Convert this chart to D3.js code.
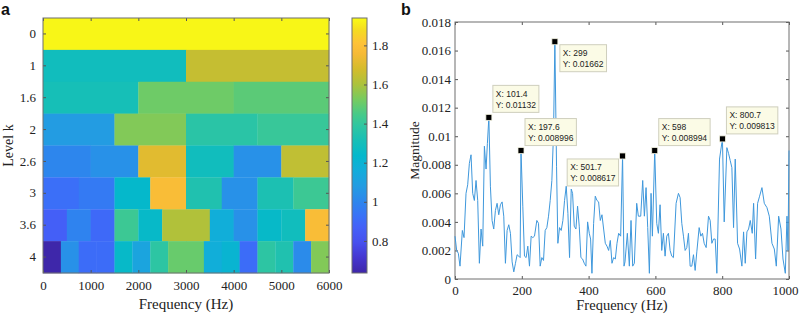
<!DOCTYPE html>
<html>
<head>
<meta charset="utf-8">
<title>Kurtogram and spectrum</title>
<script src="https://cdn.jsdelivr.net/npm/d3@7"></script>
<style>
    body { margin: 0; background: #fff; }
    svg { display: block; }
    .tick text { font-family: "Liberation Serif", "Times New Roman", serif; font-size: 13px; fill: #222; }
    .tick line { stroke: #555; }
    .title { font-family: "Liberation Serif", "Times New Roman", serif; fill: #222; }
    .letter { font-family: "Liberation Sans", Arial, sans-serif; font-weight: bold; font-size: 16px; fill: #111; }
    .tip text { font-family: "Liberation Sans", Arial, sans-serif; font-size: 8.5px; fill: #222; }
</style>
</head>
<body>
<script>
// ---- panel a data: kurtogram ----
var levels = ["0", "1", "1.6", "2", "2.6", "3", "3.6", "4"];
var level0  = [1.93];
var level1  = [1.29, 1.65];
var level16 = [1.31, 1.51, 1.48];
var level2  = [1.08, 1.54, 1.37, 1.41];
var level26 = [1.00, 1.04, 1.71, 1.29, 1.04, 1.64];
var level3  = [0.92, 0.96, 1.24, 1.78, 1.34, 1.04, 1.33, 1.42];
var level36 = [0.86, 0.99, 0.90, 1.42, 1.25, 1.61, 1.61, 1.17, 1.04, 1.25, 1.29, 1.78];
var level4  = [0.64, 1.04, 0.91, 0.91, 1.25, 1.12, 1.38, 1.50, 1.50, 1.17, 1.21, 0.91, 1.38, 1.34, 1.02, 1.54];
var kurtRows = [level0, level1, level16, level2, level26, level3, level36, level4];
var freqMaxA = 6000;
var freqTicksA = [0, 1000, 2000, 3000, 4000, 5000, 6000];
var colorDomain = [0.636, 1.94];
var colorTicks = [0.8, 1, 1.2, 1.4, 1.6, 1.8];

// ---- panel b data: envelope spectrum [freq, magnitude] ----
var spectrum = [
    [0,0.0030],[5,0.0020],[10,0.0018],[15,0.0009],[22,0.0034],[27,0.0029],[33,0.0060],[38,0.0066],[43,0.0081],[48,0.0087],
    [53,0.0060],[58,0.0055],[63,0.0069],[68,0.0055],[73,0.0011],[78,0.0035],[83,0.0023],[88,0.0093],[93,0.0077],[97,0.0095],
    [101.4,0.01132],[106,0.0065],[111,0.0041],[116,0.0035],[121,0.0048],[126,0.0053],[131,0.0045],[136,0.0052],[141,0.0054],
    [146,0.0044],[151,0.0011],[156,0.0034],[161,0.0038],[166,0.0032],[171,0.0012],[176,0.0005],[181,0.0011],[186,0.0017],
    [191,0.0016],[195,0.0015],[197.6,0.008996],[203,0.0051],[208,0.0016],[213,0.0015],[218,0.0023],[223,0.0009],[228,0.0030],
    [233,0.0029],[238,0.0030],[245,0.0041],[250,0.0039],[255,0.0009],[260,0.0015],[265,0.0013],[270,0.0034],[275,0.0036],
    [280,0.0044],[285,0.0055],[290,0.0069],[295,0.0102],[299,0.01662],[304,0.0079],[308,0.0025],[313,0.0036],[318,0.0034],
    [323,0.0041],[328,0.0055],[333,0.0065],[338,0.0046],[343,0.0015],[348,0.0063],[352,0.0060],[357,0.0037],[362,0.0035],
    [367,0.0051],[372,0.0037],[377,0.0015],[382,0.0014],[387,0.0011],[392,0.0009],[397,0.0040],[402,0.0032],[406,0.0028],
    [410,0.0004],[415,0.0039],[420,0.0058],[425,0.0055],[430,0.0054],[435,0.0041],[440,0.0045],[445,0.0035],[450,0.0025],
    [455,0.0023],[460,0.0020],[465,0.0027],[470,0.0011],[475,0.0015],[480,0.0014],[485,0.0025],[490,0.0032],[496,0.0030],
    [501.7,0.008617],[506,0.0009],[509,0.0012],[516,0.0032],[522,0.0009],[527,0.0041],[532,0.0009],[537,0.0011],[544,0.0053],
    [549,0.0044],[556,0.0044],[562,0.0069],[567,0.0044],[572,0.0064],[577,0.0036],[582,0.0004],[587,0.0060],[591,0.0030],
    [598,0.008994],[604,0.0039],[609,0.0032],[614,0.0052],[619,0.0020],[624,0.0032],[629,0.0016],[634,0.0030],[639,0.0032],
    [644,0.0020],[649,0.0016],[654,0.0015],[662,0.0053],[669,0.0060],[674,0.0057],[679,0.0039],[684,0.0030],[689,0.0020],
    [694,0.0022],[699,0.0032],[704,0.0009],[709,0.0009],[714,0.0017],[719,0.0006],[724,0.0019],[731,0.0036],[736,0.0030],
    [741,0.0032],[746,0.0025],[752,0.0022],[759,0.0044],[764,0.0041],[769,0.0025],[774,0.0028],[779,0.0028],[784,0.0004],
    [792,0.0084],[800.7,0.009813],[806,0.0040],[814,0.0092],[819,0.0088],[824,0.0083],[829,0.0078],[834,0.0036],[839,0.0084],
    [846,0.0025],[852,0.0021],[859,0.0009],[864,0.0033],[869,0.0011],[874,0.0033],[879,0.0035],[884,0.0041],[890,0.0032],
    [894,0.0053],[900,0.0014],[906,0.0053],[912,0.0058],[919,0.0064],[926,0.0053],[934,0.0050],[941,0.0044],[949,0.0025],
    [956,0.0021],[962,0.0009],[969,0.0044],[976,0.0035],[982,0.0014],[989,0.0004],[994,0.0044],[997,0.0020],[1000,0.0090]
];
var tipFreq  = [101.4, 197.6, 299, 501.7, 598, 800.7];
var tipMag   = [0.01132, 0.008996, 0.01662, 0.008617, 0.008994, 0.009813];
var tipLabelX = ["101.4", "197.6", "299", "501.7", "598", "800.7"];
var tipLabelY = ["0.01132", "0.008996", "0.01662", "0.008617", "0.008994", "0.009813"];
var tipSide  = ["ne", "ne", "se", "sw", "ne", "ne"];   // where the box sits relative to the marker
var freqTicksB = [0, 200, 400, 600, 800, 1000];
var magTicks = [0, 0.002, 0.004, 0.006, 0.008, 0.01, 0.012, 0.014, 0.016, 0.018];

// parula-like colormap
var parulaStops = [
    [0.00, "#3e26a8"], [0.06, "#4536d0"], [0.12, "#4750ee"], [0.18, "#4461f8"], [0.22, "#3a70f8"],
    [0.28, "#2d86ed"], [0.34, "#239ce2"], [0.40, "#13acdb"], [0.46, "#04b8cc"], [0.52, "#17bfb6"],
    [0.58, "#31c6a0"], [0.62, "#45ca8a"], [0.68, "#76cb60"], [0.74, "#acc23c"], [0.80, "#d4bc2c"],
    [0.86, "#f6ba36"], [0.90, "#fec238"], [0.95, "#f5da22"], [1.00, "#f9fb15"]
];
var parula = d3.scaleLinear()
    .domain(parulaStops.map(function (d) { return d[0]; }))
    .range(parulaStops.map(function (d) { return d[1]; }))
    .interpolate(d3.interpolateRgb)
    .clamp(true);
var color = function (v) {
    return parula((v - colorDomain[0]) / (colorDomain[1] - colorDomain[0]));
};

var width = 800, height = 314;
var svg = d3.select("body").append("svg").attr("width", width).attr("height", height);
var axisColor = "#6f6f6f";

function styleAxis(g) {
    g.select(".domain").remove();
    g.selectAll(".tick line").attr("stroke", axisColor);
}

// ================= panel a =================
var A = {left: 43, right: 329, top: 18, bottom: 273};
var xA = d3.scaleLinear().domain([0, freqMaxA]).range([A.left, A.right]);
var yA = d3.scaleBand().domain(levels).range([A.top, A.bottom]);

var cells = [];
kurtRows.forEach(function (row, i) {
    var bw = freqMaxA / row.length;
    row.forEach(function (v, j) {
        cells.push({level: levels[i], f0: j * bw, f1: (j + 1) * bw, v: v});
    });
});

svg.append("g").selectAll("rect").data(cells).enter().append("rect")
    .attr("x", function (d) { return xA(d.f0); })
    .attr("y", function (d) { return yA(d.level); })
    .attr("width", function (d) { return xA(d.f1) - xA(d.f0) + 0.3; })
    .attr("height", yA.bandwidth() + 0.3)
    .attr("fill", function (d) { return color(d.v); });

svg.append("g").attr("transform", "translate(0," + A.bottom + ")")
    .call(d3.axisBottom(xA).tickValues(freqTicksA).tickSize(-3).tickPadding(8).tickFormat(d3.format("d")))
    .call(styleAxis);
svg.append("g").attr("transform", "translate(0," + A.top + ")")
    .call(d3.axisTop(xA).tickValues(freqTicksA).tickSize(-3).tickFormat(""))
    .call(styleAxis);
svg.append("g").attr("transform", "translate(" + A.left + ",0)")
    .call(d3.axisLeft(yA).tickSize(-3).tickPadding(7))
    .call(styleAxis);
svg.append("g").attr("transform", "translate(" + A.right + ",0)")
    .call(d3.axisRight(yA).tickSize(-3).tickFormat(""))
    .call(styleAxis);
svg.append("rect").attr("x", A.left).attr("y", A.top)
    .attr("width", A.right - A.left).attr("height", A.bottom - A.top)
    .attr("fill", "none").attr("stroke", axisColor);

svg.append("text").attr("class", "title").attr("font-size", 15)
    .attr("x", (A.left + A.right) / 2).attr("y", 309).attr("text-anchor", "middle")
    .text("Frequency (Hz)");
svg.append("text").attr("class", "title").attr("font-size", 14)
    .attr("transform", "translate(13," + ((A.top + A.bottom) / 2) + ") rotate(-90)")
    .attr("text-anchor", "middle").text("Level k");

// colorbar
var CB = {left: 352, right: 367, top: 18, bottom: 273};
var yCB = d3.scaleLinear().domain(colorDomain).range([CB.bottom, CB.top]);
var grad = svg.append("defs").append("linearGradient").attr("id", "cbgrad")
    .attr("x1", 0).attr("y1", 1).attr("x2", 0).attr("y2", 0);
grad.selectAll("stop").data(parulaStops).enter().append("stop")
    .attr("offset", function (d) { return d[0]; })
    .attr("stop-color", function (d) { return d[1]; });
svg.append("rect").attr("x", CB.left).attr("y", CB.top)
    .attr("width", CB.right - CB.left).attr("height", CB.bottom - CB.top)
    .attr("fill", "url(#cbgrad)").attr("stroke", axisColor);
svg.append("g").attr("transform", "translate(" + CB.right + ",0)")
    .call(d3.axisRight(yCB).tickValues(colorTicks).tickSize(-3).tickPadding(5).tickFormat(d3.format("~g")))
    .call(styleAxis);

svg.append("text").attr("class", "letter").attr("x", 1).attr("y", 14.5).text("a");

// ================= panel b =================
var B = {left: 455, right: 789, top: 22, bottom: 279};
var xB = d3.scaleLinear().domain([0, 1000]).range([B.left, B.right]);
var yB = d3.scaleLinear().domain([0, 0.018]).range([B.bottom, B.top]);

var xAxisB = svg.append("g").attr("transform", "translate(0," + B.bottom + ")")
    .call(d3.axisBottom(xB).tickValues(freqTicksB).tickSize(-3).tickPadding(7).tickFormat(d3.format("d")))
    .call(styleAxis);
// last label is pulled in so it stays inside the page
xAxisB.selectAll(".tick text").filter(function (d) { return d === 1000; })
    .attr("text-anchor", "end").attr("x", 798 - B.right);
svg.append("g").attr("transform", "translate(0," + B.top + ")")
    .call(d3.axisTop(xB).tickValues(freqTicksB).tickSize(-3).tickFormat(""))
    .call(styleAxis);
svg.append("g").attr("transform", "translate(" + B.left + ",0)")
    .call(d3.axisLeft(yB).tickValues(magTicks).tickSize(-3).tickPadding(4).tickFormat(d3.format("~g")))
    .call(styleAxis);
svg.append("g").attr("transform", "translate(" + B.right + ",0)")
    .call(d3.axisRight(yB).tickValues(magTicks).tickSize(-3).tickFormat(""))
    .call(styleAxis);
svg.append("rect").attr("x", B.left).attr("y", B.top)
    .attr("width", B.right - B.left).attr("height", B.bottom - B.top)
    .attr("fill", "none").attr("stroke", axisColor);

var line = d3.line()
    .x(function (d) { return xB(d[0]); })
    .y(function (d) { return yB(d[1]); });
svg.append("path").datum(spectrum)
    .attr("d", line)
    .attr("fill", "none")
    .attr("stroke", "#3f98dc")
    .attr("stroke-width", 1)
    .attr("stroke-linejoin", "round");

svg.append("text").attr("class", "title").attr("font-size", 14.5)
    .attr("x", (B.left + B.right) / 2).attr("y", 310).attr("text-anchor", "middle")
    .text("Frequency (Hz)");
svg.append("text").attr("class", "title").attr("font-size", 13.5)
    .attr("transform", "translate(419," + ((B.top + B.bottom) / 2) + ") rotate(-90)")
    .attr("text-anchor", "middle").text("Magnitude");

// data tips
tipFreq.forEach(function (f, i) {
    var mx = xB(f), my = yB(tipMag[i]);
    var g = svg.append("g").attr("class", "tip");
    var box = g.append("rect").attr("fill", "#fbfbe6").attr("stroke", "#cfcfbd").attr("stroke-width", 1);
    var t1 = g.append("text").text("X: " + tipLabelX[i]);
    var t2 = g.append("text").text("Y: " + tipLabelY[i]);
    var w = Math.max(t1.node().getComputedTextLength(), t2.node().getComputedTextLength()) + 6;
    var h = 27;
    var bx, by;
    if (tipSide[i] === "ne") { bx = mx + 4; by = my - 5 - h; }
    else if (tipSide[i] === "se") { bx = mx + 5; by = my + 3; }
    else { bx = mx - 4 - w; by = my + 3; }
    box.attr("x", bx).attr("y", by).attr("width", w).attr("height", h);
    t1.attr("x", bx + 3).attr("y", by + 11.5);
    t2.attr("x", bx + 3).attr("y", by + 22.5);
    svg.append("rect").attr("x", mx - 3).attr("y", my - 3).attr("width", 6).attr("height", 6)
        .attr("fill", "#000").attr("stroke", "#f2f2e0").attr("stroke-width", 0.8);
});

svg.append("text").attr("class", "letter").attr("x", 401).attr("y", 15).text("b");
</script>
</body>
</html>
